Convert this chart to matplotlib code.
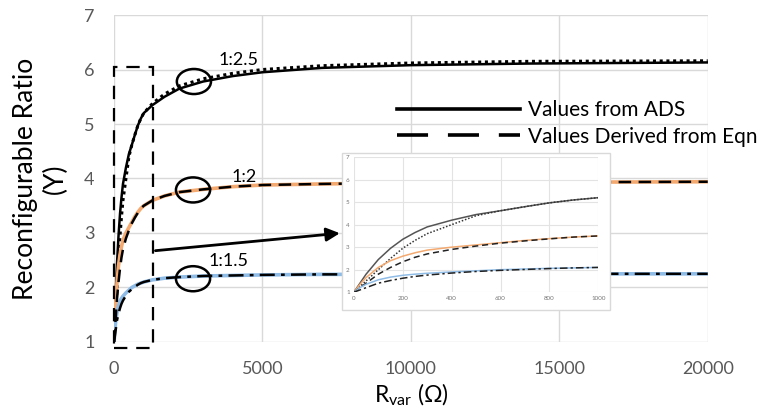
import matplotlib
matplotlib.use("Agg")
import matplotlib.pyplot as plt
from matplotlib.lines import Line2D
from matplotlib.patches import Ellipse, Rectangle

plt.rcParams['font.family'] = ['Lato', 'DejaVu Sans']
plt.rcParams['mathtext.default'] = 'regular'

# R_var values (ohm)
r_var = [0, 25, 50, 100, 150, 200, 250, 300, 400, 500, 600, 700, 800, 900, 1000,
         1300, 1700, 2200, 3000, 4000, 5000, 7000, 10000, 14000, 20000]

# 1:2.5
ads_25 = [1.0, 1.4, 1.8, 2.45, 2.95, 3.35, 3.65, 3.9, 4.2, 4.45, 4.62, 4.8, 4.97, 5.1, 5.2,
          5.35, 5.5, 5.65, 5.78, 5.88, 5.95, 6.03, 6.08, 6.11, 6.13]
eqn_25 = [1.0, 1.25, 1.5, 2.0, 2.5, 2.95, 3.3, 3.6, 4.0, 4.4, 4.62, 4.8, 4.97, 5.1, 5.2,
          5.38, 5.55, 5.7, 5.83, 5.93, 6.0, 6.07, 6.12, 6.15, 6.16]
# 1:2
ads_2 = [1.0, 1.35, 1.65, 2.1, 2.4, 2.6, 2.75, 2.87, 3.0, 3.1, 3.2, 3.3, 3.38, 3.45, 3.5,
         3.6, 3.68, 3.75, 3.8, 3.85, 3.88, 3.9, 3.92, 3.93, 3.94]
eqn_2 = [1.0, 1.2, 1.4, 1.8, 2.1, 2.35, 2.55, 2.7, 2.9, 3.05, 3.18, 3.28, 3.37, 3.45, 3.5,
         3.6, 3.68, 3.75, 3.8, 3.85, 3.88, 3.9, 3.92, 3.93, 3.94]
# 1:1.5
ads_15 = [1.0, 1.2, 1.35, 1.55, 1.67, 1.75, 1.8, 1.84, 1.9, 1.95, 2.0, 2.03, 2.06, 2.08, 2.1,
          2.14, 2.17, 2.19, 2.21, 2.22, 2.23, 2.24, 2.24, 2.25, 2.25]
eqn_15 = [1.0, 1.1, 1.2, 1.4, 1.52, 1.62, 1.7, 1.76, 1.85, 1.92, 1.97, 2.01, 2.05, 2.08, 2.1,
          2.14, 2.17, 2.19, 2.21, 2.22, 2.23, 2.24, 2.24, 2.25, 2.25]

ratio_labels = ['1:2.5', '1:2', '1:1.5']
label_x = [4200, 4380, 3870]
label_y = [6.17, 4.03, 2.49]
circle_x = [2690, 2660, 2660]
circle_y = [5.78, 3.79, 2.16]

orange = '#f3a96f'
blue = '#8fbce6'
grid_c = '#d9d9d9'
tick_c = '#595959'

fig = plt.figure(figsize=(7.76, 4.18), dpi=100)
ax = fig.add_axes([0.147, 0.182, 0.765, 0.782])

ax.plot(r_var, ads_25, color='black', lw=1.8, zorder=3)
ax.plot(r_var, eqn_25, color='black', lw=2.2, ls=(0, (1, 1.2)), zorder=3)
ax.plot(r_var, ads_2, color=orange, lw=2.6, zorder=3)
ax.plot(r_var, eqn_2, color='black', lw=1.8, ls=(0, (5, 3)), zorder=4)
ax.plot(r_var, ads_15, color=blue, lw=2.6, zorder=3)
ax.plot(r_var, eqn_15, color='black', lw=1.8, ls=(0, (6, 2.5, 1.5, 2.5)), zorder=4)

ax.set_xlim(0, 20000)
ax.set_ylim(1, 7)
ax.set_xticks(range(0, 20001, 5000))
ax.set_yticks(range(1, 8))
ax.grid(True, color=grid_c, lw=1)
ax.set_axisbelow(True)
for s in ax.spines.values():
    s.set_visible(False)
ax.tick_params(length=0, labelsize=13, labelcolor=tick_c)
ax.tick_params(axis='x', pad=14)
ax.tick_params(axis='y', pad=14)

ax.set_ylabel('Reconfigurable Ratio\n(Y)', fontsize=19, color='black', labelpad=12)
ax.set_xlabel(r'R$_{var}$ (Ω)', fontsize=16.5, labelpad=3)

for t, x, y in zip(ratio_labels, label_x, label_y):
    ax.text(x, y, t, fontsize=13, ha='center', va='center', zorder=5)
for x, y in zip(circle_x, circle_y):
    ax.add_patch(Ellipse((x, y), 1150, 0.46, fill=False, ec='black', lw=1.8, zorder=6))

# zoom box and arrow
ax.add_patch(Rectangle((0, 0.89), 1300, 5.16, fill=False, ec='black', lw=1.6,
                       ls=(0, (6, 4)), clip_on=False, zorder=6))
ax.annotate('', xy=(7700, 3.0), xytext=(1300, 2.67),
            arrowprops=dict(arrowstyle='-|>', color='black', lw=2, mutation_scale=20),
            zorder=6)

# legend
h_ads = Line2D([], [], color='black', lw=2.6)
h_eqn = Line2D([], [], color='black', lw=2.6, ls=(0, (8.6, 5.5)))
fig.legend([h_ads, h_eqn], ['Values from ADS', 'Values Derived from Eqn'],
           loc='upper left', bbox_to_anchor=(0.512, 0.76), frameon=False,
           handlelength=5.9, handletextpad=0.35, labelspacing=0.3,
           borderpad=0, borderaxespad=0, fontsize=15)

# inset
fig.patches.append(Rectangle((0.4407, 0.258), 0.345, 0.376, transform=fig.transFigure,
                             facecolor='white', edgecolor=grid_c, lw=1, zorder=1))
axi = fig.add_axes([0.456, 0.301, 0.315, 0.323])
axi.set_zorder(2)
axi.plot(r_var, ads_25, color='#555555', lw=1.1)
axi.plot(r_var, eqn_25, color='#333333', lw=1.1, ls=(0, (1, 1.2)))
axi.plot(r_var, ads_2, color=orange, lw=1.1)
axi.plot(r_var, eqn_2, color='#222222', lw=1.1, ls=(0, (4, 2.5)))
axi.plot(r_var, ads_15, color=blue, lw=1.1)
axi.plot(r_var, eqn_15, color='#222222', lw=1.1, ls=(0, (5, 2, 1.5, 2)))
axi.set_xlim(0, 1000)
axi.set_ylim(1, 7)
axi.set_xticks(range(0, 1001, 200))
axi.set_yticks(range(1, 8))
axi.grid(True, color='#e3e3e3', lw=0.8)
axi.set_axisbelow(True)
for s in axi.spines.values():
    s.set_visible(False)
axi.tick_params(length=0, labelsize=4.5, labelcolor='#777777', pad=3)

fig.savefig('out.png', dpi=100)
